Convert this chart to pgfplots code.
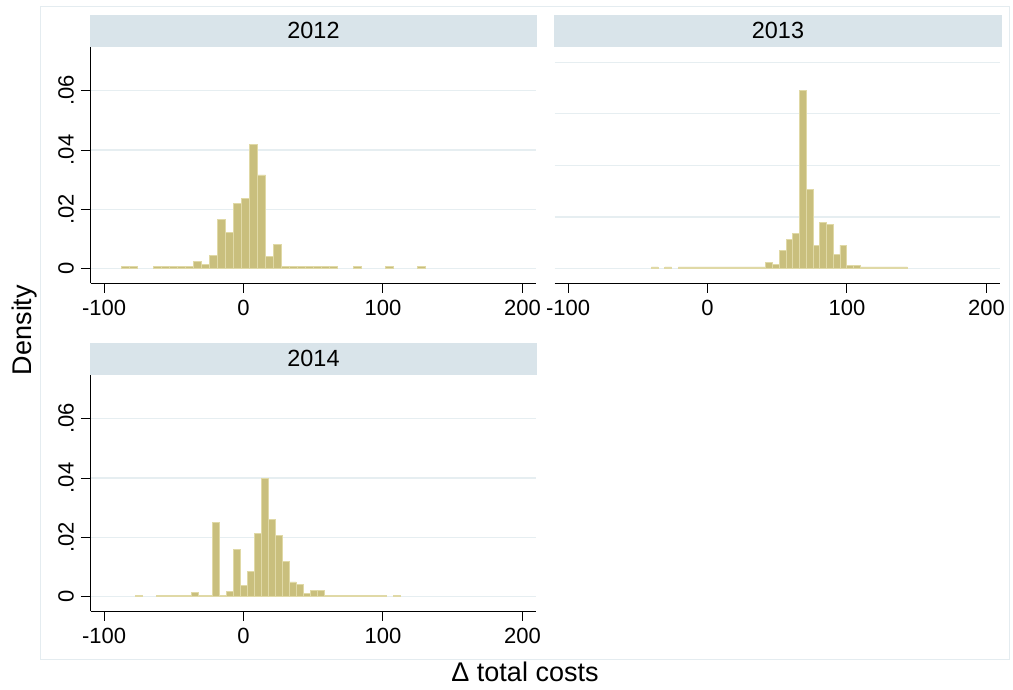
\documentclass[border=0pt]{standalone}
\usepackage{fontspec}
\setmainfont{Liberation Sans}
\usepackage{pgfplots}
\pgfplotsset{compat=1.18}
\definecolor{barfill}{RGB}{201,191,125}
\definecolor{baredge}{RGB}{224,217,166}
\definecolor{gridc}{RGB}{230,238,241}
\definecolor{stripc}{RGB}{217,228,234}
\definecolor{framec}{RGB}{228,236,240}
\pgfplotsset{
  panel/.style={
    scale only axis, width=222.5pt, height=118.3pt,
    xmin=-109.8, xmax=209.4, ymin=-0.0049, ymax=0.0748,
    axis x line=bottom, axis y line=left,
    axis line style={-, black, line width=0.7pt},
    xtick={-100,0,100,200}, xticklabels={-100,0,100,200},
    ytick={0,0.02,0.04,0.06}, yticklabels={0,.02,.04,.06},
    scaled y ticks=false, scaled x ticks=false,
    minor tick num=0,
    tick align=outside, major tick length=4.8pt,
    tick style={black, line width=0.5pt},
    ymajorgrids, grid style={gridc, line width=0.6pt},
    x tick label style={font=\fontsize{11}{13}\selectfont},
    y tick label style={rotate=90, anchor=south, font=\fontsize{11}{13}\selectfont},
    clip=false,
  },
  hist/.style={ybar, bar shift=0pt, fill=barfill, draw=baredge, line width=0.4pt},
}
\begin{document}
\begin{tikzpicture}
\path[use as bounding box] (0,0) rectangle (506.5pt,-345pt);
\draw[framec, line width=0.5pt] (20pt,-3.5pt) rectangle (504.5pt,-329.7pt);
% strips
\fill[stripc] (45pt,-7.5pt) rectangle (268.5pt,-23.35pt);
\fill[stripc] (277pt,-7.5pt) rectangle (501pt,-23.35pt);
\fill[stripc] (45pt,-171.5pt) rectangle (268.5pt,-187.35pt);
\node[font=\fontsize{11.7}{14}\selectfont] at (156.75pt,-15.4pt) {2012};
\node[font=\fontsize{11.7}{14}\selectfont] at (389pt,-15.4pt) {2013};
\node[font=\fontsize{11.7}{14}\selectfont] at (156.75pt,-179.4pt) {2014};

% 2012
\begin{axis}[panel, at={(45.25pt,-141.65pt)}, anchor=south west]
\addplot[hist, bar width=5.74] coordinates {
(-84.65,0.0007) (-78.91,0.0007)
(-61.69,0.0007) (-55.95,0.0007) (-50.21,0.0007) (-44.47,0.0007) (-38.73,0.0007)
(-32.99,0.0025) (-27.25,0.0014) (-21.51,0.0046) (-15.77,0.0167) (-10.03,0.0122)
(-4.29,0.0220) (1.45,0.0237) (7.19,0.0420) (12.93,0.0316) (18.67,0.0040) (24.41,0.0083)
(30.15,0.0007) (35.89,0.0007) (41.63,0.0007) (47.37,0.0007) (53.11,0.0007) (58.85,0.0007) (64.59,0.0007)
(81.81,0.0007) (104.77,0.0007) (127.73,0.0007)
};
\end{axis}

% 2013
\begin{axis}[panel, at={(277.25pt,-141.65pt)}, anchor=south west,
  ytick={0,0.0174,0.0348,0.0522,0.0696}, yticklabels={},
  y axis line style={draw=none}, ytick style={draw=none}]
\addplot[hist, bar width=4.83] coordinates {
(-37.9,0.0006) (-28.23,0.0006)
(-18.58,0.0006) (-13.75,0.0006) (-8.92,0.0006) (-4.09,0.0006) (0.74,0.0006) (5.57,0.0006)
(10.40,0.0006) (15.23,0.0006) (20.06,0.0006) (24.89,0.0006) (29.72,0.0006) (34.55,0.0006) (39.39,0.0006)
(44.22,0.0020) (49.05,0.0015) (53.88,0.0062) (58.71,0.0098) (63.54,0.0120) (68.37,0.0601)
(73.20,0.0268) (78.03,0.0080) (82.86,0.0157) (87.69,0.0148) (92.52,0.0048) (97.35,0.0080)
(102.18,0.0010) (107.01,0.0010)
(111.84,0.0006) (116.67,0.0006) (121.50,0.0006) (126.33,0.0006) (131.16,0.0006) (135.99,0.0006) (140.82,0.0006)
};
\end{axis}

% 2014
\begin{axis}[panel, at={(45.25pt,-305.65pt)}, anchor=south west]
\addplot[hist, bar width=5.0] coordinates {
(-74.8,0.0005)
(-59.8,0.0005) (-54.8,0.0005) (-49.8,0.0005) (-44.8,0.0005) (-39.8,0.0005)
(-34.8,0.0014) (-29.8,0.0005) (-24.8,0.0005) (-19.8,0.0251) (-14.8,0.0005)
(-9.8,0.0017) (-4.8,0.0159) (0.2,0.0039) (5.2,0.0085) (10.2,0.0213) (15.2,0.0398)
(20.2,0.0259) (25.2,0.0206) (30.2,0.0119) (35.2,0.0050) (40.2,0.0040) (45.2,0.0012)
(50.2,0.0022) (55.2,0.0022)
(60.2,0.0005) (65.2,0.0005) (70.2,0.0005) (75.2,0.0005) (80.2,0.0005) (85.2,0.0005)
(90.2,0.0005) (95.2,0.0005) (100.2,0.0005)
(110.2,0.0005)
};
\end{axis}

\node[rotate=90, font=\fontsize{13.5}{16}\selectfont] at (12.5pt,-165pt) {Density};
\node[font=\fontsize{13.5}{16}\selectfont] at (262.5pt,-336pt) {Δ total costs};
\end{tikzpicture}
\end{document}
